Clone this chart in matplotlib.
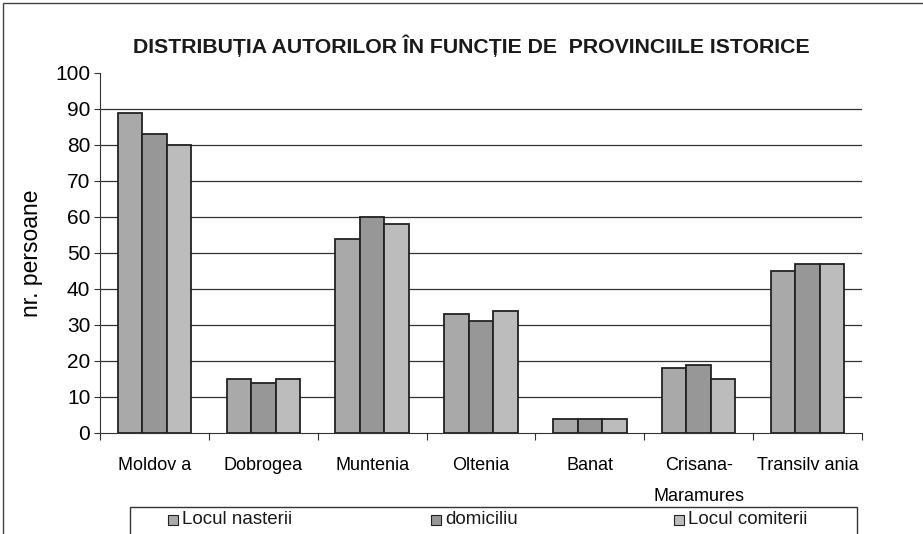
import matplotlib.pyplot as plt
import matplotlib.patches as mpatches
import numpy as np

plt.rcParams['font.family'] = ['Liberation Sans', 'DejaVu Sans']

# data --------------------------------------------------------------
provincii = ["Moldov a", "Dobrogea", "Muntenia", "Oltenia", "Banat",
             "Crisana-\nMaramures", "Transilv ania"]
locul_nasterii = [89, 15, 54, 33, 4, 18, 45]
domiciliu = [83, 14, 60, 31, 4, 19, 47]
locul_comiterii = [80, 15, 58, 34, 4, 15, 47]
serii = ["Locul nasterii", "domiciliu", "Locul comiterii"]
# --------------------------------------------------------------------

culori = ["#a9a9a9", "#979797", "#bcbcbc"]
W, H = 923, 534

fig = plt.figure(figsize=(W / 100, H / 100), dpi=100)
fig.patch.set_facecolor("white")
ax = fig.add_axes([100 / W, 1 - 433 / H, 762 / W, 360 / H])

x = np.arange(len(provincii))
bw = 0.225
for i, vals in enumerate([locul_nasterii, domiciliu, locul_comiterii]):
    ax.bar(x + (i - 1) * bw, vals, width=bw, color=culori[i],
           edgecolor="#222222", linewidth=1.3, zorder=3)

ax.set_xlim(-0.5, len(provincii) - 0.5)
ax.set_ylim(0, 100)
ax.set_yticks(range(0, 101, 10))
for v in range(10, 100, 10):
    ax.axhline(v, color="#333333", linewidth=0.9, zorder=1)

ax.set_xticks(np.arange(-0.5, len(provincii) - 0.4, 1), minor=False)
ax.set_xticklabels([])
ax.set_xticks(x, minor=True)
ax.set_xticklabels(provincii, minor=True, fontsize=13, linespacing=2.1, va="top")
ax.tick_params(axis="x", which="minor", length=0, pad=17)
ax.tick_params(axis="x", which="major", length=5, direction="out", color="#333333")
ax.tick_params(axis="y", labelsize=15, length=4, color="#333333", pad=3)

for s in ["top", "right"]:
    ax.spines[s].set_visible(False)
ax.spines["left"].set_color("#333333")
ax.spines["bottom"].set_color("#333333")

ax.set_ylabel("nr. persoane", fontsize=16.5, labelpad=9)

fig.text(471 / W, 1 - 46 / H, "DISTRIBUȚIA AUTORILOR ÎN FUNCȚIE DE  PROVINCIILE ISTORICE",
         ha="center", va="center", fontsize=15.3, fontweight="bold", color="#1a1a1a")

# legend box, cut by the bottom of the scan
fig.patches.append(mpatches.Rectangle((130 / W, 1 - 540 / H), 727 / W, 33 / H,
                                      transform=fig.transFigure, fill=False,
                                      edgecolor="#333333", linewidth=1))
for xm, nume, c in zip([168, 431, 674], serii, culori):
    fig.patches.append(mpatches.Rectangle((xm / W, 1 - 525 / H), 10 / W, 10 / H,
                                          transform=fig.transFigure, facecolor=c,
                                          edgecolor="#222222", linewidth=0.8))
    fig.text((xm + 14) / W, 1 - 520 / H, nume, ha="left", va="center",
             fontsize=13.5, color="#1a1a1a")

# outer frame of the scanned figure
fig.patches.append(mpatches.Rectangle((3 / W, -0.1), 1.2, 1 - 3 / H + 0.1,
                                      transform=fig.transFigure, fill=False,
                                      edgecolor="#444444", linewidth=1))

fig.savefig("out.png", dpi=100)
